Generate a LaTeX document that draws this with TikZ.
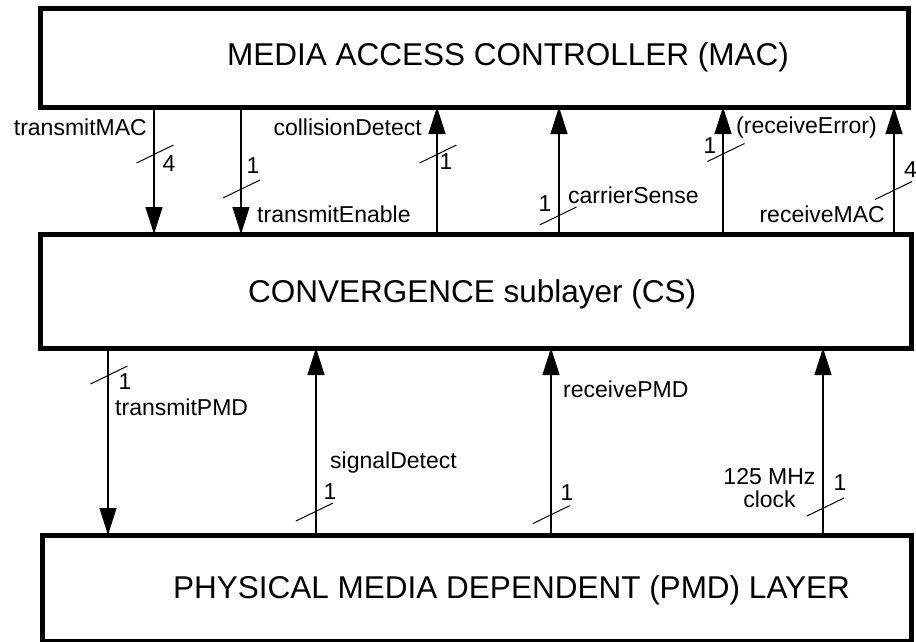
\documentclass[tikz,border=0pt]{standalone}
\usepackage{fontspec}
\setmainfont{Liberation Sans}
\usetikzlibrary{arrows.meta,calc}
\begin{document}
\begin{tikzpicture}[x=1pt,y=-1pt,
  layerbox/.style={draw,line width=5pt,inner sep=0pt,outer sep=0pt},
  titletext/.style={inner sep=0pt,font=\fontsize{31.5}{36}\selectfont},
  lbl/.style={inner sep=0pt,font=\fontsize{23}{23}\selectfont},
  sigline/.style={line width=1.3pt,-{Triangle[length=27pt,width=17pt]}},
  slashline/.style={line width=1pt}]
\useasboundingbox (0,0) rectangle (916,642);

% boxes
\node[layerbox,minimum width=868pt,minimum height=98pt] (mac) at (474,58) {};
\node[layerbox,minimum width=871pt,minimum height=114pt] (cs) at (475.5,291) {};
\node[layerbox,minimum width=869pt,minimum height=106.5pt] (pmd) at (476.5,588.25) {};

% titles
\node[titletext,anchor=base] (tmac) at (508,66) {MEDIA ACCESS CONTROLLER (MAC)};
\node[titletext,anchor=base west] (tcs) at (248,302) {CONVERGENCE sublayer (CS)};
\node[titletext,anchor=base west] (tpmd) at (173,598) {PHYSICAL MEDIA DEPENDENT (PMD) LAYER};

% x positions of signals
\coordinate (xa) at (154,0);
\coordinate (xb) at (241,0);
\coordinate (xc) at (437,0);
\coordinate (xd) at (559,0);
\coordinate (xe) at (723,0);
\coordinate (xf) at (894,0);
\coordinate (xg) at (108,0);
\coordinate (xh) at (316,0);
\coordinate (xi) at (551,0);
\coordinate (xj) at (823,0);

% MAC <-> CS
\draw[sigline] (xa |- mac.south) -- (xa |- cs.north);
\draw[sigline] (xb |- mac.south) -- (xb |- cs.north);
\draw[sigline] (xc |- cs.north) -- (xc |- mac.south);
\draw[sigline] (xd |- cs.north) -- (xd |- mac.south);
\draw[sigline] (xe |- cs.north) -- (xe |- mac.south);
\draw[sigline] (xf |- cs.north) -- (xf |- mac.south);

% CS <-> PMD
\draw[sigline] (xg |- cs.south) -- (xg |- pmd.north);
\draw[sigline] (xh |- pmd.north) -- (xh |- cs.south);
\draw[sigline] (xi |- pmd.north) -- (xi |- cs.south);
\draw[sigline] (xj |- pmd.north) -- (xj |- cs.south);

% bus-width slashes
\foreach \cx/\cy in {155/154,241.5/189,438/154,558/216,726/152.5,893.5/190.5,109/375,314.5/512,551.5/514.5,825.5/507}{
  \draw[slashline] (\cx-18.5,\cy+9) -- ++(37,-18);
}

% labels, top section
\node[lbl,anchor=base east] (ltxmac) at (147,135) {transmitMAC};
\node[lbl] (wa) at (169,164) {4};
\node[lbl,anchor=base west] (ltxen) at (257,222) {transmitEnable};
\node[lbl] (wb) at (253,166) {1};
\node[lbl,anchor=base east] (lcol) at (422,135) {collisionDetect};
\node[lbl] (wc) at (446,162) {1};
\node[lbl,anchor=base west] (lcrs) at (568,203) {carrierSense};
\node[lbl] (wd) at (545,203.5) {1};
\node[lbl,anchor=base west] (lrerr) at (736,133) {(receiveError)};
\node[lbl] (we) at (710,146) {1};
\node[lbl,anchor=base east] (lrmac) at (885,222) {receiveMAC};
\node[lbl] (wf) at (910.5,169.5) {4};

% labels, bottom section
\node[lbl,anchor=base west] (ltxpmd) at (115,415) {transmitPMD};
\node[lbl] (wg) at (125,381.5) {1};
\node[lbl,anchor=base west] (lsd) at (330,468) {signalDetect};
\node[lbl] (wh) at (330,492) {1};
\node[lbl,anchor=base west] (lrpmd) at (563,397) {receivePMD};
\node[lbl] (wi) at (567,493) {1};
\node[lbl,align=center] (lclk) at (769.5,488.25) {125 MHz\\clock};
\node[lbl] (wj) at (840,482.5) {1};
\end{tikzpicture}
\end{document}
